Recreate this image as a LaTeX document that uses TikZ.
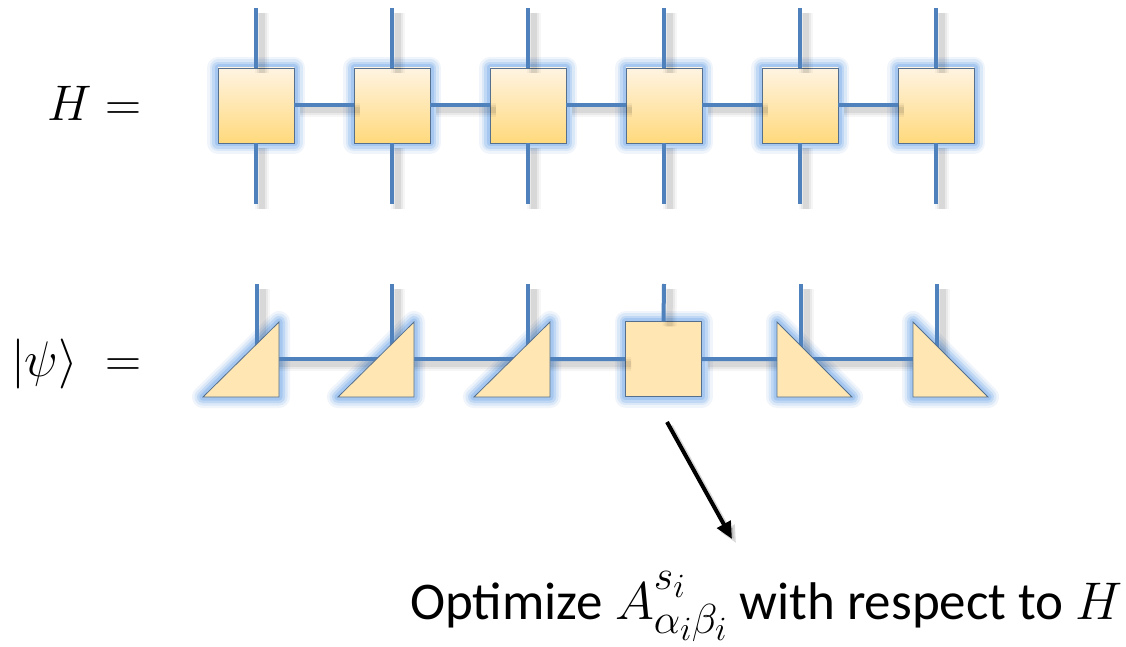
\documentclass[tikz,border=0pt]{standalone}
\usepackage{fix-cm}
\usepackage{fontspec}
\newfontfamily\calib{Carlito}
\usetikzlibrary{arrows.meta}
\DeclareMathSizes{53}{53}{42}{34}

\definecolor{bondc}{HTML}{4F81BD}
\definecolor{glowc}{HTML}{86B4EC}
\definecolor{edgec}{HTML}{55708F}
\definecolor{sqtop}{HTML}{FFF4E2}
\definecolor{sqbot}{HTML}{FFD97C}
\definecolor{tric}{HTML}{FFE6B2}

\tikzset{
  glow/.style={
    preaction={draw=glowc,line width=22pt,opacity=.12,line join=round},
    preaction={draw=glowc,line width=17pt,opacity=.2,line join=round},
    preaction={draw=glowc,line width=12pt,opacity=.3,line join=round},
    preaction={draw=glowc,line width=7pt,opacity=.45,line join=round}},
  tensor/.style={draw=edgec,line width=.8pt,minimum width=76pt,
    minimum height=75pt,inner sep=0pt,glow},
  optensor/.style={tensor,top color=sqtop,bottom color=sqbot},
  mpstensor/.style={tensor,fill=tric},
  tri/.style={draw=edgec,line width=.8pt,fill=tric,line join=miter},
  bond/.style={draw=bondc,line width=4pt,
    preaction={draw=black,opacity=.035,line width=14pt,
      transform canvas={shift={(6pt,-5pt)}}},
    preaction={draw=black,opacity=.05,line width=10pt,
      transform canvas={shift={(6pt,-5pt)}}},
    preaction={draw=black,opacity=.07,line width=6pt,
      transform canvas={shift={(6pt,-5pt)}}}},
  pointer/.style={draw=black,line width=4pt,
    -{Triangle[length=17pt,width=15pt]}},
  labelfont/.style={font=\fontsize{50}{60}\selectfont,inner sep=0pt},
}

\begin{document}
\begin{tikzpicture}[x=1pt,y=-1pt]
  \useasboundingbox (0,0) rectangle (1126,647);
  \fill[white] (0,0) rectangle (1126,647);

  % operator row (H)
  \foreach \i/\x in {1/256,2/392,3/528,4/664,5/800,6/936}{
    \node[optensor] (h\i) at (\x,105.5) {};
    \coordinate (ht\i) at (\x,8);
    \coordinate (hb\i) at (\x,204);
  }
  \foreach \i in {1,...,6}{
    \draw[bond] (h\i.north) -- (ht\i);
    \draw[bond] (h\i.south) -- (hb\i);
  }
  \foreach \i/\j in {1/2,2/3,3/4,4/5,5/6}
    \draw[bond] (h\i) -- (h\j);

  % state row (psi): site coordinates and physical legs
  \foreach \i/\x in {1/257,2/392,3/528,5/801,6/937}{
    \coordinate (t\i) at (\x,359);
    \coordinate (tu\i) at (\x,284);
  }
  \coordinate (tu4) at (664,284);

  % glow beneath the triangles
  \foreach \i in {1,2,3}
    \path[glow] (t\i) ++(-54,38) -- ++(76,-75) -- ++(0,75) -- cycle;
  \foreach \i in {5,6}
    \path[glow] (t\i) ++(-24,-37) -- ++(0,75) -- ++(75,0) -- cycle;

  \node[mpstensor] (p4) at (663.5,359.2) {};

  \foreach \i in {1,2,3,5,6}
    \draw[bond] (t\i) -- (tu\i);
  \draw[bond] (p4.north) -- (tu4);
  \draw[bond] (t1) -- (t2);
  \draw[bond] (t2) -- (t3);
  \draw[bond] (t3) -- (p4);
  \draw[bond] (p4) -- (t5);
  \draw[bond] (t5) -- (t6);

  % left- and right-canonical tensors
  \foreach \i in {1,2,3}
    \draw[tri] (t\i) ++(-54,38) -- ++(76,-75) -- ++(0,75) -- cycle;
  \foreach \i in {5,6}
    \draw[tri] (t\i) ++(-24,-37) -- ++(0,75) -- ++(75,0) -- cycle;

  % labels
  \node[labelfont,anchor=base east] (lh) at (142,121) {$H =$};
  \node[labelfont,anchor=base east] (lpsi) at (142,376) {$|\psi\rangle\;=$};

  % pointer to the optimised site
  \coordinate (a0) at (667,422);
  \coordinate (a1) at (732,539);
  \draw[pointer,draw=black,fill=black,opacity=.15,
    transform canvas={shift={(4pt,-4pt)}}] (a0) -- (a1);
  \draw[pointer,fill=black] (a0) -- (a1);

  \node[anchor=base west,inner sep=0pt,font=\calib\fontsize{53}{64}\selectfont]
    (opt) at (410,619)
    {Optimize $A^{\raisebox{10pt}{$\scriptstyle s_i$}}%
      _{\raisebox{-1pt}{$\scriptstyle\alpha_i\beta_i$}}$
     with respect to $H$};
\end{tikzpicture}
\end{document}
